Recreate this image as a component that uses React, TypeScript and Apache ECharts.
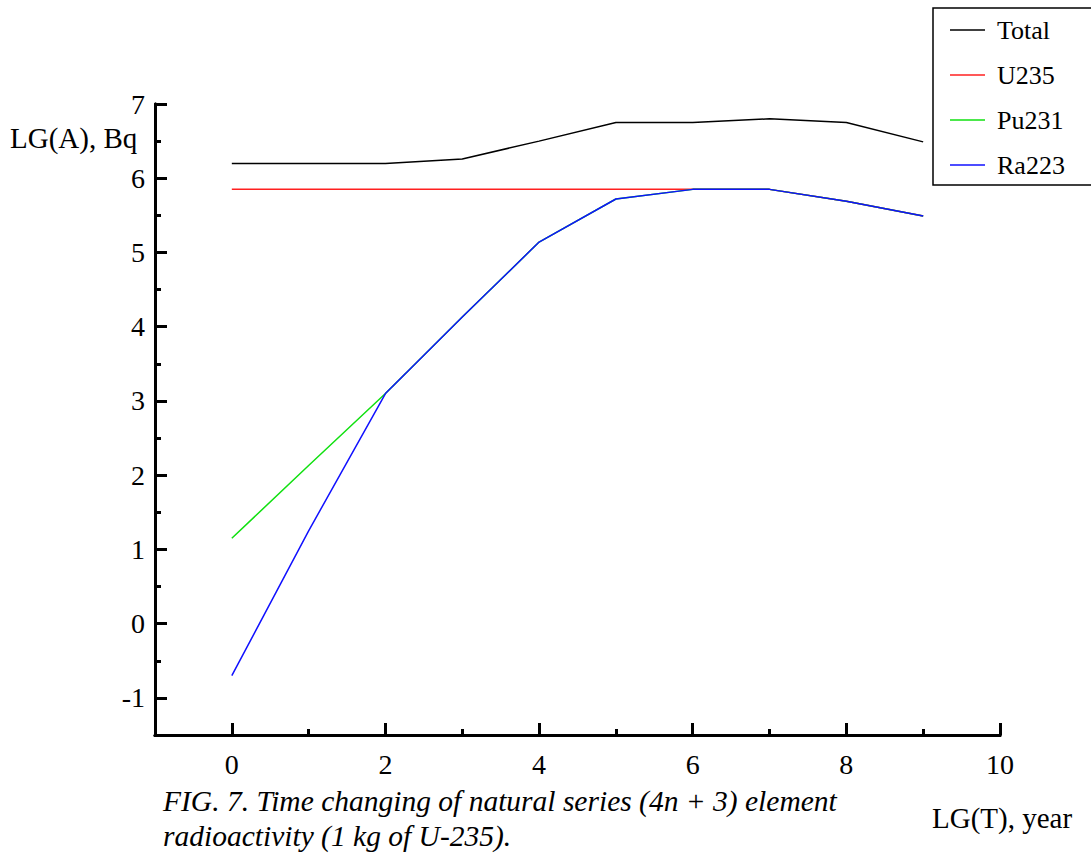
import React, { useEffect, useRef } from "react";
import * as echarts from "echarts";

const years = [0, 1, 2, 3, 4, 5, 6, 7, 8, 9];
const total = [6.2, 6.2, 6.2, 6.26, 6.5, 6.75, 6.75, 6.8, 6.75, 6.49];
const u235 = [5.85, 5.85, 5.85, 5.85, 5.85, 5.85, 5.85, 5.85, 5.69, 5.49];
const pu231 = [1.15, 2.13, 3.1, 4.13, 5.14, 5.72, 5.85, 5.85, 5.69, 5.49];
const ra223 = [-0.7, 1.25, 3.1, 4.13, 5.14, 5.72, 5.85, 5.85, 5.69, 5.49];

const yMajor = [-1, 0, 1, 2, 3, 4, 5, 6, 7];
const yMinor = [-0.5, 0.5, 1.5, 2.5, 3.5, 4.5, 5.5, 6.5];
const xMajor = [0, 2, 4, 6, 8, 10];
const xMinor = [1, 3, 5, 7, 9];

const seriesNames = ["Total", "U235", "Pu231", "Ra223"];
const seriesColors = ["#000000", "#ff2020", "#10e010", "#1010ff"];
const seriesValues = [total, u235, pu231, ra223];

const FONT = "'Liberation Serif', 'Times New Roman', 'DejaVu Serif', serif";

export default function App() {
  const ref = useRef<HTMLDivElement>(null);
  useEffect(() => {
    document.body.style.margin = "0";
    const chart = echarts.init(ref.current!, null, { renderer: "svg" });
    const axisLine = { show: true, onZero: false, lineStyle: { color: "#000", width: 3 } };
    const baseY = {
      type: "value",
      min: -1.5,
      max: 7,
      splitLine: { show: false },
      axisLine,
    };
    const baseX = {
      type: "value",
      min: -1,
      max: 10,
      splitLine: { show: false },
      axisLine,
    };
    chart.setOption({
      animation: false,
      backgroundColor: "#fff",
      textStyle: { fontFamily: FONT },
      grid: { left: 155, right: 91, top: 104, bottom: 119 },
      legend: {
        orient: "vertical",
        left: 933,
        top: 8,
        padding: [7, 27, 5, 17],
        itemGap: 15,
        itemWidth: 35,
        itemHeight: 1.5,
        icon: "rect",
        borderColor: "#000",
        borderWidth: 1.5,
        borderRadius: 0,
        data: seriesNames,
        textStyle: {
          fontFamily: FONT,
          fontSize: 26,
          color: "#000",
          lineHeight: 30,
          padding: [0, 0, 0, 7],
        },
      },
      xAxis: [
        {
          ...baseX,
          axisTick: { show: true, inside: true, length: 12, customValues: xMajor, lineStyle: { color: "#000", width: 3 } },
          axisLabel: { show: true, customValues: xMajor, margin: 15, fontFamily: FONT, fontSize: 28, color: "#000" },
        },
        {
          ...baseX,
          position: "bottom",
          axisTick: { show: true, inside: true, length: 6, customValues: xMinor, lineStyle: { color: "#000", width: 3 } },
          axisLabel: { show: false },
        },
      ],
      yAxis: [
        {
          ...baseY,
          axisTick: { show: true, inside: true, length: 12, customValues: yMajor, lineStyle: { color: "#000", width: 3 } },
          axisLabel: { show: true, customValues: yMajor, margin: 10, fontFamily: FONT, fontSize: 28, color: "#000" },
        },
        {
          ...baseY,
          position: "left",
          axisTick: { show: true, inside: true, length: 6, customValues: yMinor, lineStyle: { color: "#000", width: 3 } },
          axisLabel: { show: false },
        },
      ],
      series: seriesNames.map((name, i) => ({
        name,
        type: "line",
        xAxisIndex: 0,
        yAxisIndex: 0,
        symbol: "none",
        showSymbol: false,
        color: seriesColors[i],
        itemStyle: { color: seriesColors[i] },
        lineStyle: { color: seriesColors[i], width: 1.5 },
        data: years.map((x, j) => [x, seriesValues[i][j]]),
      })),
      graphic: [
        {
          type: "text",
          left: 10,
          top: 123,
          style: { text: "LG(A), Bq", fontFamily: FONT, fontSize: 29, fill: "#000" },
        },
        {
          type: "text",
          left: 932,
          top: 803,
          style: { text: "LG(T), year", fontFamily: FONT, fontSize: 29, fill: "#000" },
        },
        {
          type: "text",
          left: 163,
          top: 783,
          style: {
            text: "FIG. 7. Time changing of natural series (4n + 3) element\nradioactivity (1 kg of U-235).",
            fontFamily: FONT,
            fontStyle: "italic",
            fontSize: 29.5,
            lineHeight: 35,
            fill: "#000",
          },
        },
      ],
    });
    return () => chart.dispose();
  }, []);
  return <div ref={ref} style={{ width: 1091, height: 854 }} />;
}
